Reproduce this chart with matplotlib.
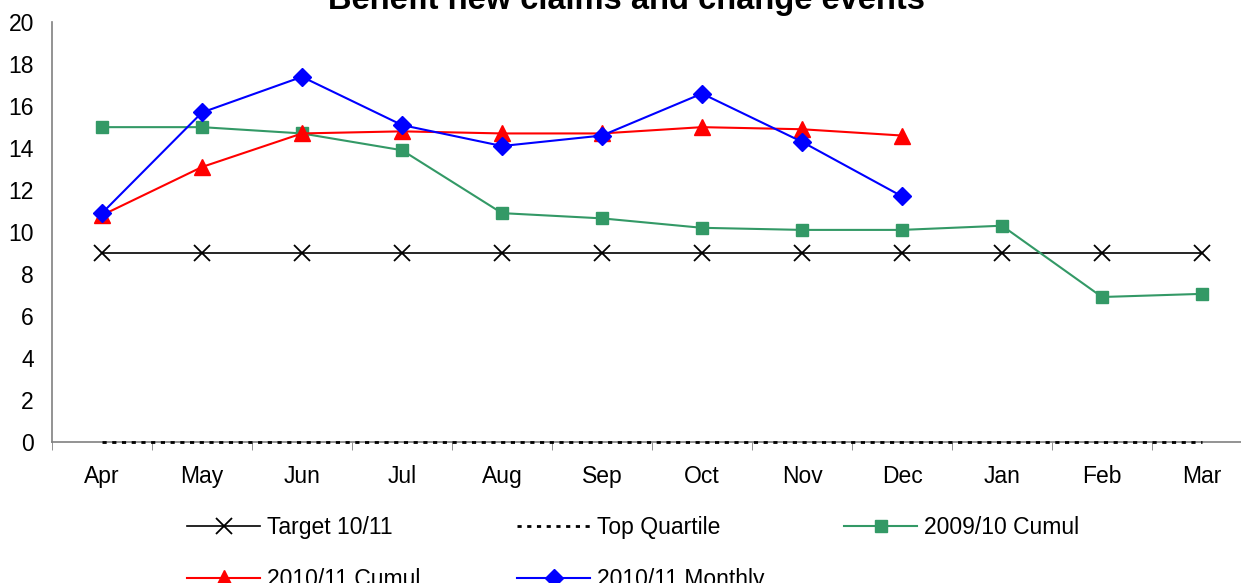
import matplotlib
matplotlib.use("Agg")
import matplotlib.pyplot as plt
import numpy as np

plt.rcParams['font.family'] = ['Liberation Sans', 'DejaVu Sans']

# Data
months = ['Apr', 'May', 'Jun', 'Jul', 'Aug', 'Sep', 'Oct', 'Nov', 'Dec', 'Jan', 'Feb', 'Mar']
target_1011 = [9, 9, 9, 9, 9, 9, 9, 9, 9, 9, 9, 9]
top_quartile = [0, 0, 0, 0, 0, 0, 0, 0, 0, 0, 0, 0]
cumul_0910 = [15.0, 15.0, 14.7, 13.9, 10.9, 10.65, 10.2, 10.1, 10.1, 10.3, 6.9, 7.05]
cumul_1011 = [10.8, 13.1, 14.7, 14.8, 14.7, 14.7, 15.0, 14.9, 14.6]
monthly_1011 = [10.9, 15.7, 17.4, 15.1, 14.1, 14.6, 16.6, 14.3, 11.7]

x = np.arange(len(months))

fig = plt.figure(figsize=(12.41, 5.83), dpi=100)
ax = fig.add_axes([52/1241, (583-441.7)/583, 1200/1241, (441.7-22.3)/583])

fs = 16.5

l1, = ax.plot(x, target_1011, color='black', lw=1.2, marker='x', ms=11, mew=1.3, label='Target 10/11')
l2, = ax.plot(x, top_quartile, color='black', lw=2.0, ls=(0, (1.5, 2.0)), label='Top Quartile',
              clip_on=False, zorder=4)
l3, = ax.plot(x, cumul_0910, color='#339966', lw=1.5, marker='s', ms=8, label='2009/10 Cumul')
l4, = ax.plot(x[:len(cumul_1011)], cumul_1011, color='red', lw=1.5, marker='^', ms=12, label='2010/11 Cumul')
l5, = ax.plot(x[:len(monthly_1011)], monthly_1011, color='blue', lw=1.5, marker='D', ms=9, label='2010/11 Monthly')

ax.set_xlim(-0.5, 11.5)
ax.set_ylim(0, 20)
ax.set_yticks(range(0, 21, 2))
ax.set_xticks(x)
ax.set_xticklabels(months)
ax.set_xticks(np.arange(-0.5, 12, 1), minor=True)
ax.tick_params(axis='x', which='major', length=0, pad=16.5, labelsize=fs)
ax.tick_params(axis='x', which='minor', length=6, color='#808080', direction='out')
ax.tick_params(axis='y', length=0, pad=13, labelsize=fs)

for s in ['top', 'right']:
    ax.spines[s].set_visible(False)
for s in ['left', 'bottom']:
    ax.spines[s].set_color('#808080')
    ax.spines[s].set_linewidth(1.2)

fig.text(0.505, 1 - 9/583, 'Benefit new claims and change events', ha='center', va='baseline',
         fontsize=23.5, fontweight='bold')

# legend in three fixed columns, like the Excel layout
columns = [([l1, l4], 187), ([l2, l5], 517), ([l3], 844)]
for hs, xpos in columns:
    fig.legend(handles=hs, labels=[h.get_label() for h in hs],
               loc='upper left', bbox_to_anchor=(xpos/1241, 1 - 516/583), frameon=False,
               fontsize=fs, handlelength=3.2, handletextpad=0.3,
               labelspacing=1.25, borderpad=0, borderaxespad=0)

fig.savefig('out.png', dpi=100)
